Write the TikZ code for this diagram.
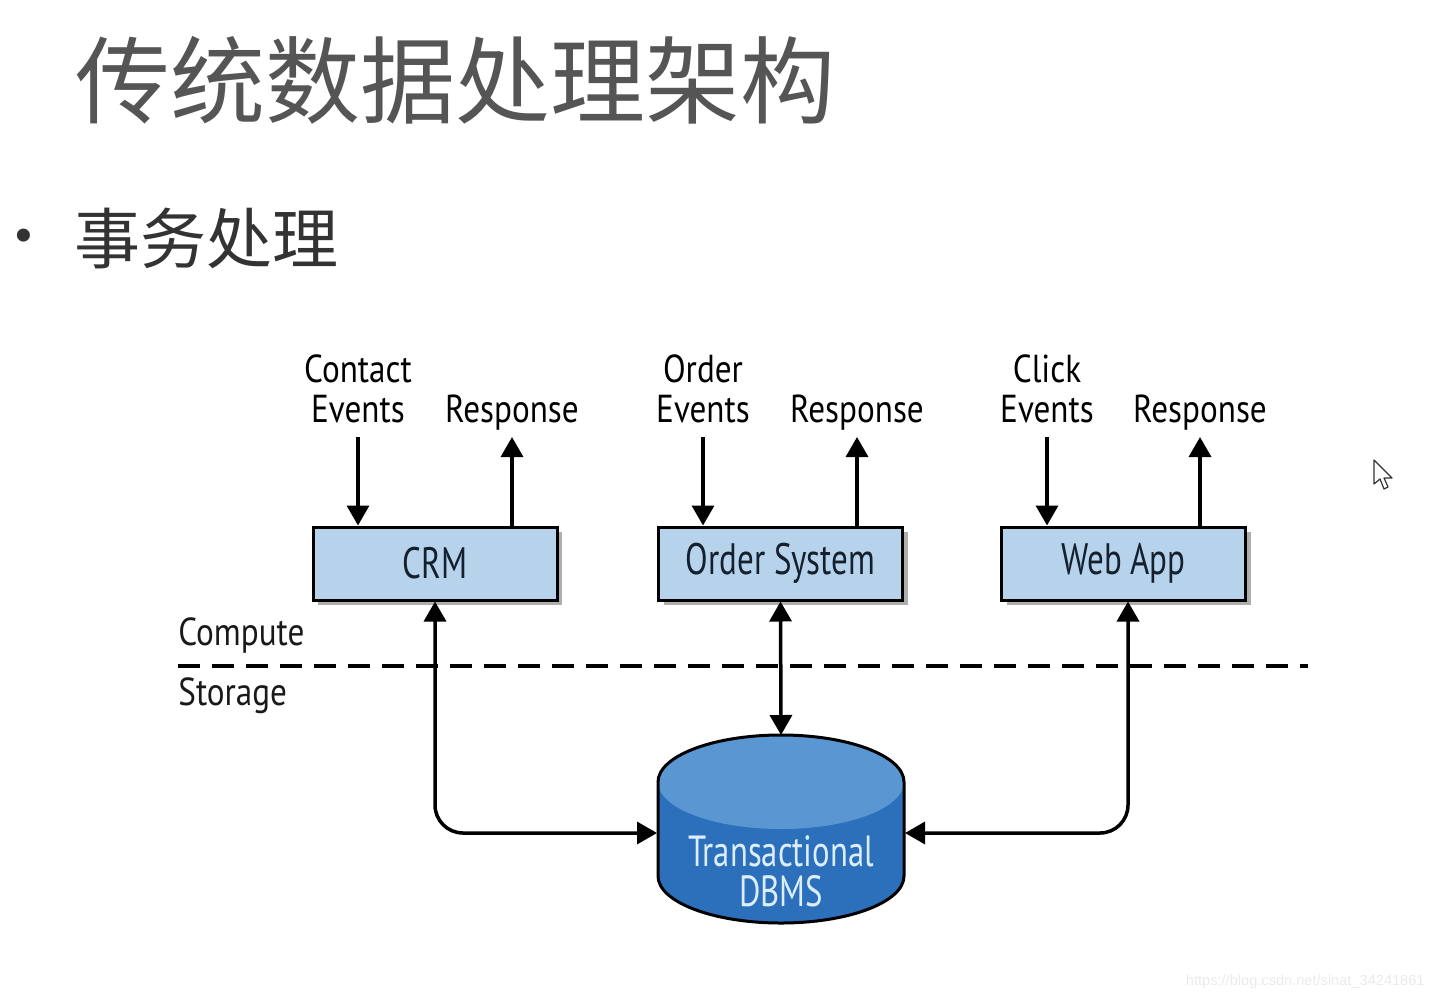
\documentclass[tikz,border=0pt]{standalone}
\usepackage{fontspec}
\newfontfamily\cjk{Noto Sans CJK SC}
\newfontfamily\df[FakeStretch=0.85]{PT Sans}
\newfontfamily\dfn[FakeStretch=0.75]{PT Sans}
\newfontfamily\wm{Liberation Sans}
\usetikzlibrary{arrows.meta,shadows}
\definecolor{boxfill}{HTML}{B7D3EB}
\definecolor{textdark}{HTML}{14202E}
\definecolor{titlegray}{HTML}{555555}
\definecolor{subgray}{HTML}{333333}
\definecolor{bodyc}{HTML}{2C70BC}
\definecolor{topc}{HTML}{5A96D2}
\definecolor{dbtext}{HTML}{DCEEFB}
\begin{document}
\begin{tikzpicture}[x=0.5pt,y=-0.5pt,
  box/.style={draw=black, line width=1.5pt, fill=boxfill, minimum width=122pt, minimum height=36.5pt,
    inner sep=0pt, font=\dfn\fontsize{22}{26}\selectfont, text=textdark,
    drop shadow={shadow xshift=2.5pt, shadow yshift=-2.5pt, opacity=0.45, fill=black!70}},
  lbl/.style={inner sep=0pt, outer sep=0pt, anchor=base, font=\df\fontsize{19.5}{24}\selectfont,
    text=black, text depth=7.5pt},
  side/.style={inner sep=0pt, anchor=base west, font=\df\fontsize{19.5}{24}\selectfont, text=black!90},
  arr/.style={line width=1.75pt, -{Triangle[length=10pt,width=11pt]}},
  darr/.style={line width=1.75pt, {Triangle[length=10pt,width=11pt]}-{Triangle[length=10pt,width=11pt]}},
  sep/.style={line width=2pt, dash pattern=on 11pt off 6pt},
]
\fill[white] (0,0) rectangle (1433,1001);
\useasboundingbox (0,0) rectangle (1433,1001);

% titles
\node[anchor=west, inner sep=0pt, font=\cjk\fontsize{47.5}{50}\selectfont, text=titlegray] (title) at (75,80) {传统数据处理架构};
\node[inner sep=0pt, font=\wm\fontsize{24}{26}\selectfont, text=subgray] (bullet) at (24,240) {•};
\node[anchor=west, inner sep=0pt, font=\cjk\fontsize{33}{36}\selectfont, text=subgray] (sub) at (74,238) {事务处理};

% boxes
\node[box] (crm) at (435,563.5) {CRM};
\node[box] (os) at (780.5,563.5) {Order System};
\node[box] (wa) at (1123.5,563.5) {Web App};

% labels
\node[lbl] (c1) at (358,382) {Contact};
\node[lbl] (ev1) at (358,422) {Events};
\node[lbl] (rs1) at (512,422) {Response};
\node[lbl] (o1) at (703,382) {Order};
\node[lbl] (ev2) at (703,422) {Events};
\node[lbl] (rs2) at (857,422) {Response};
\node[lbl] (k1) at (1047,382) {Click};
\node[lbl] (ev3) at (1047,422) {Events};
\node[lbl] (rs3) at (1200,422) {Response};

\draw[arr] (ev1.south) -- (ev1.south |- crm.north);
\draw[arr] (rs1.south |- crm.north) -- (rs1.south);
\draw[arr] (ev2.south) -- (ev2.south |- os.north);
\draw[arr] (rs2.south |- os.north) -- (rs2.south);
\draw[arr] (ev3.south) -- (ev3.south |- wa.north);
\draw[arr] (rs3.south |- wa.north) -- (rs3.south);

% compute / storage
\node[side] (comp) at (178,645) {Compute};
\node[side] (stor) at (178,705) {Storage};
\coordinate (sepL) at (178,666);
\coordinate (sepR) at (1308,666);
\draw[sep] (sepL) -- (sepR);

% database cylinder
\fill[bodyc] (658,782) -- (658,876) arc[start angle=180,end angle=360,x radius=61.5pt,y radius=23.5pt]
  -- (904,782) arc[start angle=0,end angle=180,x radius=61.5pt,y radius=23.5pt] -- cycle;
\fill[topc] (781,782) ellipse[x radius=61.5pt, y radius=23.5pt];
\draw[line width=1.5pt] (658,782) -- (658,876) arc[start angle=180,end angle=360,x radius=61.5pt,y radius=23.5pt]
  -- (904,782) arc[start angle=0,end angle=180,x radius=61.5pt,y radius=23.5pt] -- cycle;
\node[minimum width=123pt, minimum height=94pt, inner sep=0pt, outer sep=0pt] (db) at (781,829) {};
\node[align=center, inner sep=0pt, font=\dfn\fontsize{21.8}{20}\selectfont, text=dbtext] (dbt) at (781,871) {Transactional\\DBMS};
\coordinate (dbL) at (657,833);
\coordinate (dbR) at (905,833);

% connectors to storage
\draw[darr, rounded corners=14pt] (crm.south) |- (dbL);
\draw[darr] (os.south) -- (db.north);
\draw[darr, rounded corners=14pt] ([xshift=2.25pt]wa.south) |- (dbR);

% cursor
\draw[line width=0.6pt, fill=white, draw=black!80, line join=round]
  (1374,460) -- (1374,484) -- (1380,479) -- (1384,489) -- (1388,487) -- (1384,478) -- (1392,478) -- cycle;

% watermark
\node[anchor=east, inner sep=0pt, font=\wm\fontsize{7.3}{9}\selectfont, text=black!8] (wmk) at (1425,982) {https://blog.csdn.net/sinat\_34241861};
\end{tikzpicture}
\end{document}
